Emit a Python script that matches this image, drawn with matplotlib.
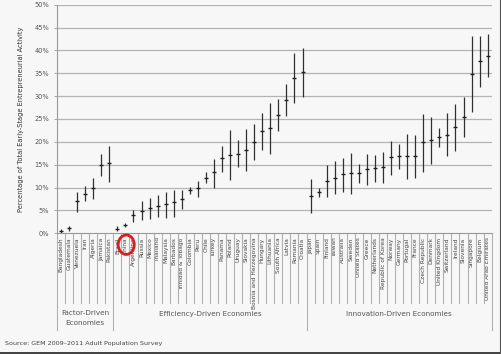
import matplotlib
matplotlib.use('Agg')
import matplotlib.pyplot as plt
from matplotlib.patches import Ellipse
import numpy as np

plt.rcParams['font.family'] = ['Liberation Sans Narrow', 'DejaVu Sans']

# Data (TEA %, with lower / upper 95% bounds)
factor_names = ['Bangladesh', 'Guatemala', 'Venezuela', 'Iran', 'Algeria', 'Jamaica', 'Pakistan']
factor_mid = [0.6, 1.1, 7.0, 8.7, 9.8, 14.9, 15.3]
factor_lo = [0.0, 0.6, 4.6, 7.1, 7.4, 12.6, 11.3]
factor_hi = [1.0, 1.5, 9.1, 10.3, 12.2, 17.3, 19.2]

eff_names = ['Brazil', 'China', 'Argentina', 'Russia', 'Mexico', 'Thailand', 'Malaysia',
             'Barbados', 'Trinidad & Tobago', 'Colombia', 'Peru', 'Chile', 'Turkey',
             'Panama', 'Poland', 'Uruguay', 'Slovakia', 'Bosnia and Herzegovina',
             'Hungary', 'Lithuania', 'South Africa', 'Latvia', 'Romania', 'Croatia']
eff_mid = [0.9, 1.9, 4.0, 4.9, 5.5, 6.0, 6.3, 6.8, 7.5, 9.4, 9.8, 12.0, 13.3,
           16.4, 17.1, 17.4, 18.2, 20.0, 22.4, 23.0, 25.8, 29.2, 34.0, 35.2]
eff_lo = [0.4, 1.3, 2.4, 2.8, 3.2, 3.6, 3.3, 3.6, 5.3, 8.5, 7.9, 10.9, 10.0,
          13.3, 11.6, 14.4, 13.6, 16.0, 18.3, 17.3, 22.3, 25.6, 28.4, 29.9]
eff_hi = [1.5, 2.3, 5.2, 7.0, 7.7, 8.4, 9.0, 9.5, 9.5, 10.1, 11.5, 13.3, 16.3,
          19.2, 22.5, 20.4, 22.9, 23.8, 26.4, 28.6, 29.3, 32.7, 39.4, 40.5]

inn_names = ['Japan', 'Spain', 'Finland', 'Taiwan', 'Australia', 'Sweden', 'United States',
             'Greece', 'Netherlands', 'Republic of Korea', 'Norway', 'Germany', 'Portugal',
             'France', 'Czech Republic', 'Denmark', 'United Kingdom', 'Switzerland',
             'Ireland', 'Slovenia', 'Singapore', 'Belgium', 'United Arab Emirates']
inn_mid = [8.2, 9.0, 11.4, 12.2, 12.9, 13.1, 13.1, 14.1, 14.2, 14.6, 16.6, 16.8, 16.9,
           17.0, 19.9, 20.4, 21.0, 21.6, 23.3, 25.4, 34.8, 37.7, 38.8]
inn_lo = [4.4, 8.0, 8.0, 8.5, 9.0, 8.5, 10.9, 10.6, 11.2, 11.0, 12.8, 14.0, 11.8,
          12.2, 13.4, 15.1, 18.9, 16.8, 18.1, 21.1, 26.5, 31.9, 34.2]
inn_hi = [11.9, 9.8, 14.9, 15.8, 16.4, 17.5, 15.1, 17.3, 17.1, 17.8, 20.2, 19.6, 21.7,
          21.6, 26.2, 25.5, 23.0, 26.3, 28.3, 29.9, 43.2, 43.2, 43.5]

groups = ['Factor-Driven\nEconomies', 'Efficiency-Driven Economies', 'Innovation-Driven Economies']

names = factor_names + eff_names + inn_names
mid = np.array(factor_mid + eff_mid + inn_mid)
lo = np.array(factor_lo + eff_lo + inn_lo)
hi = np.array(factor_hi + eff_hi + inn_hi)
sizes = [len(factor_names), len(eff_names), len(inn_names)]
x = np.arange(len(names))

fig = plt.figure(figsize=(5.01, 3.54), dpi=100)
fig.patch.set_facecolor('#f7f7f7')
ax = fig.add_axes([0.1138, 0.341, 0.8676, 0.6457])
ax.set_facecolor('#f7f7f7')

# gridlines
for v in range(5, 55, 5):
    ax.axhline(v, color='#b4b4b4', lw=0.9, zorder=1)

# interval bars and mid markers
ax.vlines(x, lo, hi, color='#303030', lw=0.9, zorder=3)
ax.plot(x, mid, ls='none', marker='_', ms=3, mew=1.0, color='#202020', zorder=4)

ax.set_xlim(-0.5, len(names) - 0.5)
ax.set_ylim(0, 50)
ax.set_yticks(range(0, 55, 5))
ax.set_yticklabels([f'{v}%' for v in range(0, 55, 5)], fontsize=4.8, color='#555555')
ax.tick_params(axis='y', length=2.5, width=0.6, color='#999999', pad=3)
ax.set_ylabel('Percentage of Total Early-Stage Entrepreneurial Activity',
              fontsize=4.8, color='#333333', labelpad=8)

ax.set_xticks(x)
ax.set_xticklabels(names, rotation=90, fontsize=4.2, color='#444444', va='top')
ax.tick_params(axis='x', length=0, pad=3)

for s in ['top', 'right']:
    ax.spines[s].set_visible(False)
ax.spines['left'].set_color('#999999')
ax.spines['left'].set_linewidth(0.8)
ax.spines['bottom'].set_color('#999999')
ax.spines['bottom'].set_linewidth(0.8)

# category separators below the axis
trans = ax.get_xaxis_transform()
bounds = np.cumsum([0] + sizes) - 0.5
for b in np.arange(len(names) + 1) - 0.5:
    if b in bounds:
        ax.plot([b, b], [0, -0.425], color='#b0b0b0', lw=0.8, transform=trans, clip_on=False)
    else:
        ax.plot([b, b], [0, -0.305], color='#b0b0b0', lw=0.8, transform=trans, clip_on=False)

# group labels
for i, g in enumerate(groups):
    c = (bounds[i] + bounds[i + 1]) / 2
    y = -0.37 if '\n' in g else -0.355
    ax.text(c, y, g, transform=trans, ha='center', va='center', fontsize=5.2,
            color='#555555', linespacing=1.8)

# red circle around China
ax.add_patch(Ellipse((eff_names.index('China') + len(factor_names) + 0.1, -0.05), 2.0, 0.085,
                     transform=trans, fill=False, ec='#d42020', lw=2.0, clip_on=False, zorder=5))

fig.text(0.01, 0.03, 'Source: GEM 2009\u20132011 Adult Population Survey', fontsize=4.6,
         color='#444444', ha='left', va='center')

# dark frame on bottom and right edge
fig.add_artist(plt.Line2D([0, 1], [0.004, 0.004], color='#222222', lw=1.2, transform=fig.transFigure))
fig.add_artist(plt.Line2D([0.998, 0.998], [0, 1], color='#555555', lw=0.8, transform=fig.transFigure))

fig.savefig('out.png', dpi=100, facecolor=fig.get_facecolor())
